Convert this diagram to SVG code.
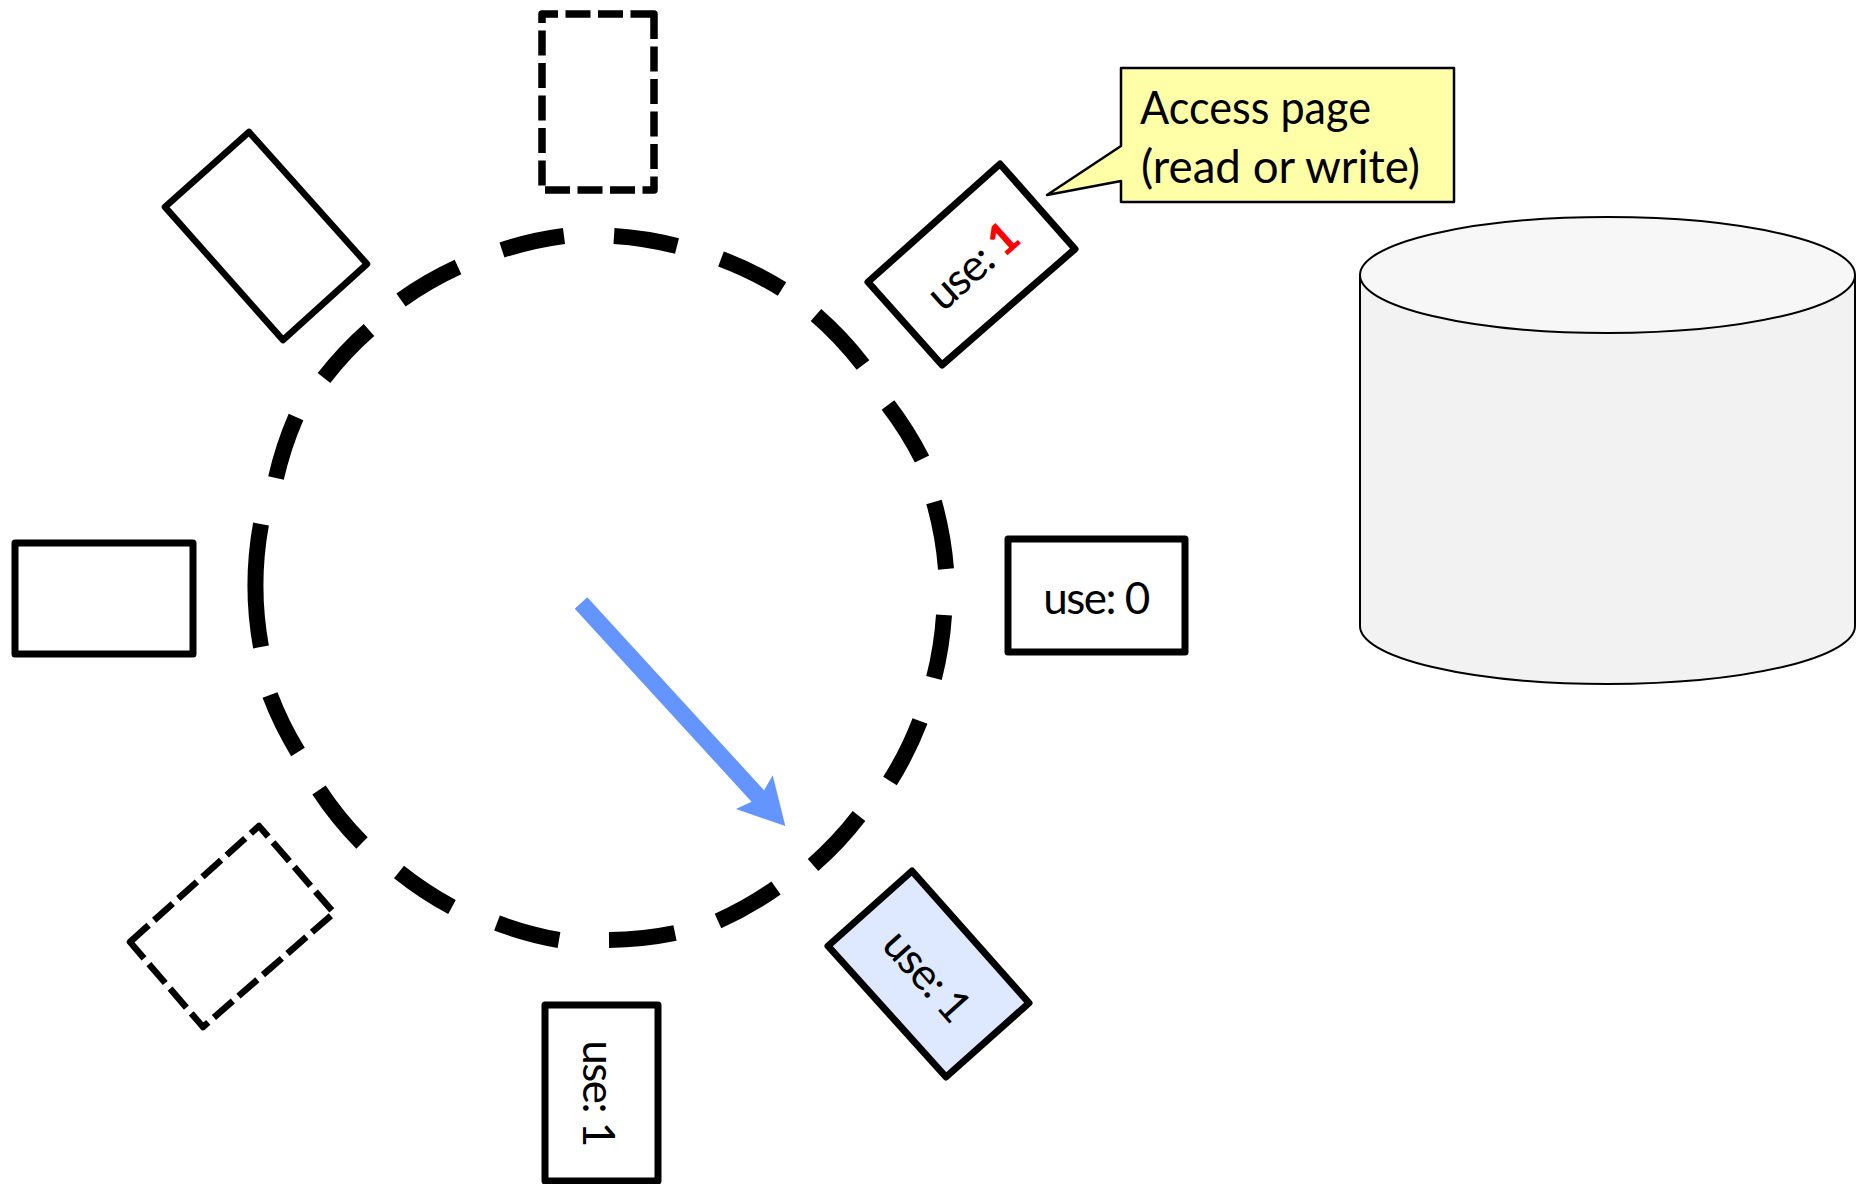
<svg xmlns="http://www.w3.org/2000/svg" width="1866" height="1184" viewBox="0 0 1866 1184">
<style>
.page{fill:#fff;stroke:#000;stroke-width:7;stroke-linejoin:round}
.thin{stroke-width:6.500}
.dash{fill:none;stroke-width:7.500;stroke-dasharray:25 7.500}
.t{font-family:"Lato","Noto Sans",sans-serif;font-size:44px;letter-spacing:-1.500px;fill:#000;text-anchor:middle;dominant-baseline:central}
.ring{fill:none;stroke:#000;stroke-width:16}
</style>
<defs>
<marker id="head" markerUnits="userSpaceOnUse" viewBox="0 0 46 50" markerWidth="46" markerHeight="50" refX="10" refY="25" orient="auto"><path d="M0 0L46 25L0 50L8 25Z" fill="#6495FF"/></marker>
</defs>
<rect width="1866" height="1184" fill="#fff"/>
<g id="disk">
<path d="M1360 275V626A247.500 58 0 0 0 1855 626V275Z" fill="#F2F2F2" stroke="#000" stroke-width="2"/>
<ellipse cx="1607.500" cy="275" rx="247.500" ry="58" fill="#F7F7F7" stroke="#000" stroke-width="2"/>
</g>
<g id="connectors">
<g id="ring">
<path class="ring" d="M614 236A345 345 0 0 1 677 246M721 259A345 345 0 0 1 782 289M816 315A345 345 0 0 1 863 365M888 405A345 345 0 0 1 922 459M934 502A345 345 0 0 1 946 569M944 615A345 345 0 0 1 934 678M920 721A345 345 0 0 1 890 781M859 816A345 345 0 0 1 813 865M776 888A345 345 0 0 1 718 921M675 933A345 345 0 0 1 609 940M559 940A345 345 0 0 1 497 923M452 907A345 345 0 0 1 399 872M362 843A345 345 0 0 1 319 790M298 752A345 345 0 0 1 270 695M261 647A345 345 0 0 1 261 524M276 478A345 345 0 0 1 296 417M324 378A345 345 0 0 1 369 330M401 300A345 345 0 0 1 458 267M502 250A345 345 0 0 1 564 236"/>
</g>
<line id="clock-hand" x1="581" y1="603" x2="761" y2="799.500" stroke="#6495FF" stroke-width="17" marker-end="url(#head)"/>
</g>
<g id="node-top"><polygon class="page dash" points="654,14 654,190 542,190 542,14"/></g>
<g id="node-top-left"><polygon class="page thin" points="249,132 367,264 283,340 165,207"/></g>
<g id="node-top-right"><polygon class="page" points="1000,164 1075,249 942,365 868,282"/>
<text class="t" transform="translate(971,265) rotate(-41.700)"><tspan>use: </tspan><tspan fill="#f00" font-weight="900">1</tspan></text></g>
<g id="node-right"><rect class="page" x="1008" y="539" width="177" height="113"/>
<text class="t" x="1096" y="597">use: 0</text></g>
<g id="node-left"><rect class="page" x="15" y="543" width="178" height="111"/></g>
<g id="node-bottom-right"><polygon class="page" points="912,871 1029,1003 946,1077 828,946" style="fill:#DEE8FF"/>
<text class="t" transform="translate(928,974) rotate(48.300)">use: 1</text></g>
<g id="node-bottom"><rect class="page" x="545" y="1005" width="113" height="176"/>
<text class="t" transform="translate(600,1093) rotate(90)">use: 1</text></g>
<g id="node-bottom-left"><polygon class="page thin dash" style="stroke-width:6.500" points="130,942 259,826 334,913 203,1027"/></g>
<g id="callout"><polygon points="1121,68 1454,68 1454,202 1121,202 1121,181 1047,195 1121,146" fill="#FFFFA8" stroke="#000" stroke-width="2.500" stroke-linejoin="round"/>
<text font-family="Lato, 'Noto Sans', sans-serif" font-size="46" fill="#000"><tspan x="1140" y="124" textLength="231" lengthAdjust="spacingAndGlyphs">Access page</tspan><tspan x="1141" y="183" textLength="279" lengthAdjust="spacingAndGlyphs">(read or write)</tspan></text></g>
</svg>
